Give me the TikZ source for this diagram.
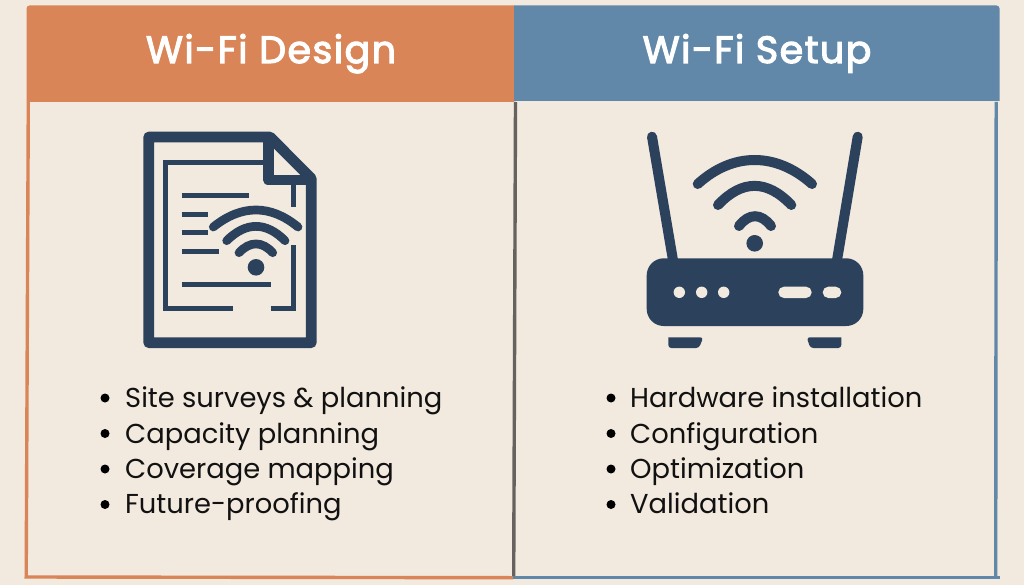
\documentclass[tikz,border=0pt]{standalone}
\usepackage{fontspec}
\setmainfont{Poppins}
\newfontfamily\headfont[FakeBold=3,LetterSpace=3.8]{Poppins}
\usetikzlibrary{positioning}
\definecolor{paper}{HTML}{F2E9DF}
\definecolor{designcol}{HTML}{D98558}
\definecolor{setupcol}{HTML}{6288A9}
\definecolor{iconcol}{HTML}{2C415C}
\definecolor{midcol}{HTML}{666260}
\definecolor{inkcol}{HTML}{111111}
\tikzset{
	head/.style={text=white,font=\headfont\fontsize{38}{44}\selectfont,inner sep=0pt,anchor=base},
	item/.style={text=inkcol,font=\fontsize{27.35}{32}\selectfont,anchor=base west,inner sep=0pt},
	dot/.style={circle,fill=black,inner sep=0pt,minimum size=9pt},
	icon/.style={draw=iconcol,line cap=round},
	iconfill/.style={fill=iconcol,draw=none}
}
\begin{document}
\begin{tikzpicture}[x=1pt,y=-1pt]
\useasboundingbox (0,0) rectangle (1024,585);
\fill[paper] (0,0) rectangle (1024,585);
% panel borders
\draw[designcol,line width=3.4pt] (28.3,102) -- (26.2,577) -- (513,577.7);
\draw[setupcol,line width=3.4pt] (513,577.7) -- (999.5,577.7);
\draw[setupcol,line width=3.4pt] (996.2,102) -- (995.7,577.7);
\draw[midcol,line width=3.4pt] (515.5,102) -- (513.7,576);
% header bands
\fill[designcol] (26.5,102) [rounded corners=3pt] -- (26.5,5.5) [sharp corners] -- (514,5.5) -- (514,102) -- cycle;
\fill[setupcol] (514,5.5) [rounded corners=3pt] -- (999.5,5.5) [sharp corners] -- (999.5,101) -- (514,101) -- cycle;
\node[head] (designhead) at (271,63) {Wi-Fi Design};
\node[head] (setuphead) at (757,63) {Wi-Fi Setup};
% document icon
\draw[icon,line width=10.7pt,line join=round] (148.7,137) -- (270,137) -- (311.3,178.5) -- (311.3,342.7) -- (148.7,342.7) -- cycle;
\draw[icon,line width=10.7pt,line join=round,line cap=butt] (268.3,137) -- (268.3,180) -- (311.3,180);
\draw[icon,line width=5pt,line cap=butt] (265,163) -- (165.8,163) -- (165.8,308.7) -- (233.3,308.7);
\draw[icon,line width=5pt,line cap=butt] (270.7,308.7) -- (293.5,308.7) -- (293.5,245);
\draw[icon,line width=5pt,line cap=butt] (293.5,180) -- (293.5,207);
\draw[icon,line width=5pt,line cap=butt] (181.7,195.5) -- (249.3,195.5);
\draw[icon,line width=5pt,line cap=butt] (181.7,214.3) -- (208.3,214.3);
\draw[icon,line width=5pt,line cap=butt] (181.7,232.7) -- (208.3,232.7);
\draw[icon,line width=5pt,line cap=butt] (181.7,251.7) -- (219,251.7);
\draw[icon,line width=5pt,line cap=butt] (181.7,284.3) -- (270.7,284.3);
\draw[icon,line width=8.7pt] (213.3,227) .. controls (241.5,204.3) and (270.5,204.3) .. (298,227);
\draw[icon,line width=8.7pt] (226.7,240.7) .. controls (246,221.6) and (266,221.6) .. (285,240.7);
\draw[icon,line width=8.7pt] (239,252.7) .. controls (250,241) and (262,241) .. (272.7,252.7);
\fill[iconcol] (256,267.3) circle (8.3);
% router icon
\draw[icon,line width=10pt] (652,136.7) -- (673.3,262);
\draw[icon,line width=10pt] (857.7,136.7) -- (836.7,262);
\fill[iconcol,rounded corners=17pt] (646.7,258.3) rectangle (863.3,326);
\fill[paper] (679.3,292.3) circle (5.7);
\fill[paper] (701.7,292.3) circle (5.7);
\fill[paper] (723.7,292.3) circle (5.7);
\fill[paper,rounded corners=5.6pt] (778.3,286.7) rectangle (811.7,298);
\fill[paper,rounded corners=5.6pt] (822.7,286.7) rectangle (841.3,298);
\fill[iconcol,rounded corners=3pt] (668.3,337.3) -- (668.3,348) -- (699,348) -- (703.3,337.3) [sharp corners] -- cycle;
\fill[iconcol,rounded corners=3pt] (841.3,337.3) -- (841.3,348) -- (810.3,348) -- (806.7,337.3) [sharp corners] -- cycle;
\draw[icon,line width=10pt] (697.7,184) .. controls (733,152) and (776,152) .. (812,184);
\draw[icon,line width=10pt] (718,205) .. controls (742,179.5) and (767,179.5) .. (791.3,205);
\draw[icon,line width=10pt] (739,226) .. controls (749,213) and (761,213) .. (771,226);
\fill[iconcol] (754.7,243.3) circle (8.3);
% left list
\node[dot] (d1) at (105,398) {};
\node[dot] (d2) at (105,433.5) {};
\node[dot] (d3) at (105,469) {};
\node[dot] (d4) at (105,504.5) {};
\node[item] (l1) at (125,407) {Site surveys \& planning};
\node[item] (l2) at (125,443) {Capacity planning};
\node[item] (l3) at (125,478) {Coverage mapping};
\node[item] (l4) at (125,513.5) {Future-proofing};
% right list
\node[dot] (e1) at (611,398) {};
\node[dot] (e2) at (611,433.5) {};
\node[dot] (e3) at (611,469) {};
\node[dot] (e4) at (611,504.5) {};
\node[item] (r1) at (630,407) {Hardware installation};
\node[item] (r2) at (630,443) {Configuration};
\node[item] (r3) at (630,478) {Optimization};
\node[item] (r4) at (630,513.5) {Validation};
\end{tikzpicture}
\end{document}
